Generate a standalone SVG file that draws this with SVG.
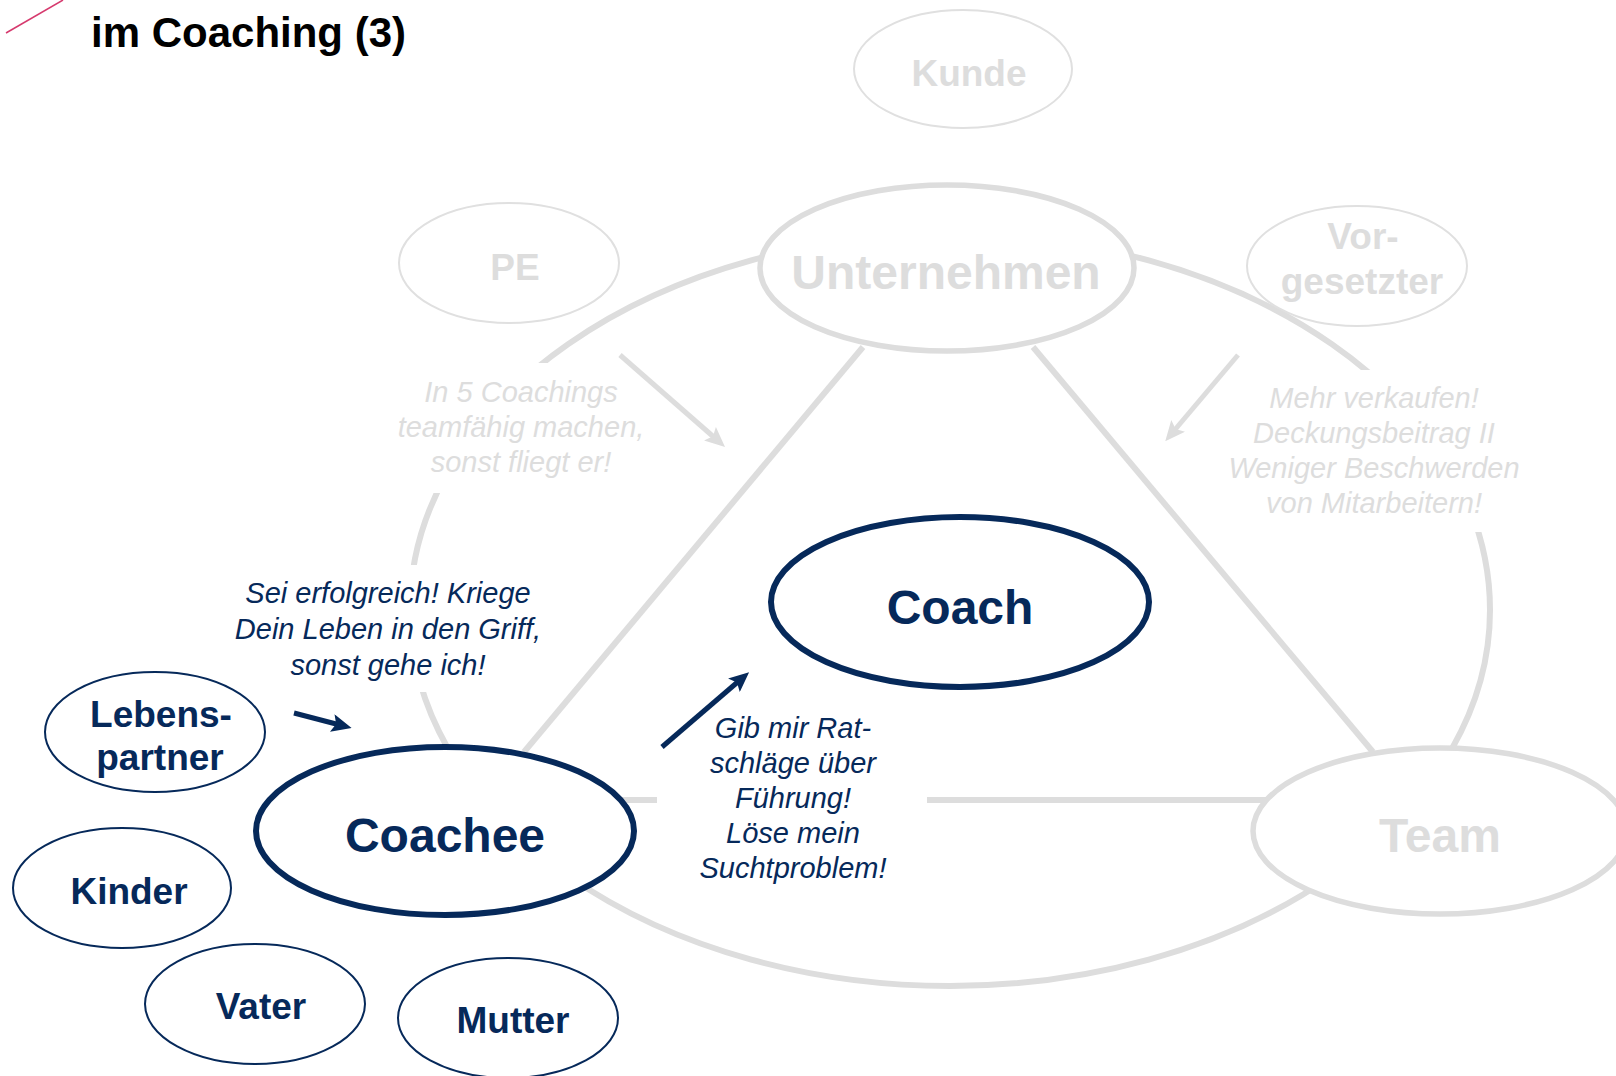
<svg xmlns="http://www.w3.org/2000/svg" width="1616" height="1076" viewBox="0 0 1616 1076">
<style>
  text { font-family: "Liberation Sans", Arial, sans-serif; text-anchor: middle; }
  .title { font-weight: bold; font-size: 42px; fill: #000; text-anchor: start; }
  .gbig { font-weight: bold; font-size: 48px; fill: #dddddd; }
  .gsm { font-weight: bold; font-size: 37px; fill: #dddddd; }
  .nbig { font-weight: bold; font-size: 48px; fill: #06295a; }
  .nsm { font-weight: bold; font-size: 37px; fill: #06295a; }
  .gq { font-style: italic; font-size: 29px; fill: #dddddd; }
  .nq { font-style: italic; font-size: 29px; fill: #06295a; }
  .gline { fill: none; stroke: #dddddd; stroke-width: 6; }
  .garrow { fill: none; stroke: #dddddd; stroke-width: 5; marker-end: url(#ghead); }
  .narrow { fill: none; stroke: #06295a; stroke-width: 5; marker-end: url(#nhead); }
  .gthick { fill: #fff; stroke: #dddddd; stroke-width: 5.5; }
  .gthin { fill: #fff; stroke: #e0e0e0; stroke-width: 2; }
  .nthick { fill: #fff; stroke: #06295a; stroke-width: 6; }
  .nthin { fill: #fff; stroke: #06295a; stroke-width: 2; }
</style>
<defs>
  <marker id="ghead" markerUnits="userSpaceOnUse" viewBox="0 0 20 18" markerWidth="20" markerHeight="18" refX="8" refY="9" orient="auto">
    <path d="M0,0 L20,9 L0,18 L4,9 z" fill="#dddddd"/>
  </marker>
  <marker id="nhead" markerUnits="userSpaceOnUse" viewBox="0 0 20 18" markerWidth="20" markerHeight="18" refX="8" refY="9" orient="auto">
    <path d="M0,0 L20,9 L0,18 L4,9 z" fill="#06295a"/>
  </marker>
  <mask id="gaps" maskUnits="userSpaceOnUse" x="0" y="0" width="1616" height="1076">
    <rect x="0" y="0" width="1616" height="1076" fill="#fff"/>
    <rect x="380" y="363" width="280" height="130" fill="#000"/>
    <rect x="1215" y="370" width="315" height="162" fill="#000"/>
    <rect x="225" y="565" width="325" height="127" fill="#000"/>
  </mask>
</defs>

<rect x="0" y="0" width="1616" height="1076" fill="#fff"/>

<g id="header">
  <line x1="6" y1="33" x2="63" y2="0" stroke="#d63a6e" stroke-width="1.5"/>
  <text class="title" x="91" y="47">im Coaching (3)</text>
</g>

<g id="connectors">
  <ellipse class="gline" cx="950" cy="610" rx="540" ry="376" mask="url(#gaps)"/>
  <line class="gline" x1="863" y1="347" x2="524" y2="752"/>
  <line class="gline" x1="1033" y1="347" x2="1373" y2="752"/>
  <line class="gline" x1="600" y1="800" x2="657" y2="800"/>
  <line class="gline" x1="927" y1="800" x2="1300" y2="800"/>
  <line class="garrow" x1="620" y1="355" x2="716" y2="439"/>
  <line class="garrow" x1="1238" y1="355" x2="1173" y2="432"/>
  <line class="narrow" x1="294" y1="713" x2="340" y2="725"/>
  <line class="narrow" x1="662" y1="747" x2="740" y2="680"/>
</g>

<g id="label-pe">
  <text class="gq" x="521" y="402">In 5 Coachings</text>
  <text class="gq" x="521" y="437">teamfähig machen,</text>
  <text class="gq" x="521" y="472">sonst fliegt er!</text>
</g>
<g id="label-vorgesetzter">
  <text class="gq" x="1374" y="408">Mehr verkaufen!</text>
  <text class="gq" x="1374" y="443">Deckungsbeitrag II</text>
  <text class="gq" x="1374" y="478">Weniger Beschwerden</text>
  <text class="gq" x="1374" y="513">von Mitarbeitern!</text>
</g>
<g id="label-partner">
  <text class="nq" x="388" y="603">Sei erfolgreich! Kriege</text>
  <text class="nq" x="388" y="639">Dein Leben in den Griff,</text>
  <text class="nq" x="388" y="675">sonst gehe ich!</text>
</g>
<g id="label-coachee">
  <text class="nq" x="793" y="738">Gib mir Rat-</text>
  <text class="nq" x="793" y="773">schläge über</text>
  <text class="nq" x="793" y="808">Führung!</text>
  <text class="nq" x="793" y="843">Löse mein</text>
  <text class="nq" x="793" y="878">Suchtproblem!</text>
</g>

<g id="node-kunde">
  <ellipse class="gthin" cx="963" cy="69" rx="109" ry="59"/>
  <text class="gsm" x="969" y="86">Kunde</text>
</g>
<g id="node-pe">
  <ellipse class="gthin" cx="509" cy="263" rx="110" ry="60"/>
  <text class="gsm" x="515" y="280">PE</text>
</g>
<g id="node-vorgesetzter">
  <ellipse class="gthin" cx="1357" cy="266" rx="110" ry="60"/>
  <text class="gsm" x="1363" y="249">Vor-</text>
  <text class="gsm" x="1362" y="294">gesetzter</text>
</g>
<g id="node-unternehmen">
  <ellipse class="gthick" cx="947" cy="268" rx="187" ry="83"/>
  <text class="gbig" x="946" y="289">Unternehmen</text>
</g>
<g id="node-team">
  <ellipse class="gthick" cx="1440" cy="831" rx="187" ry="83"/>
  <text class="gbig" x="1440" y="852">Team</text>
</g>
<g id="node-coach">
  <ellipse class="nthick" cx="960" cy="602" rx="189" ry="85"/>
  <text class="nbig" x="960" y="624">Coach</text>
</g>
<g id="node-coachee">
  <ellipse class="nthick" cx="445" cy="831" rx="189" ry="84"/>
  <text class="nbig" x="445" y="852">Coachee</text>
</g>
<g id="node-lebenspartner">
  <ellipse class="nthin" cx="155" cy="732" rx="110" ry="60"/>
  <text class="nsm" x="161" y="727">Lebens-</text>
  <text class="nsm" x="160" y="770">partner</text>
</g>
<g id="node-kinder">
  <ellipse class="nthin" cx="122" cy="888" rx="109" ry="60"/>
  <text class="nsm" x="129" y="904">Kinder</text>
</g>
<g id="node-vater">
  <ellipse class="nthin" cx="255" cy="1004" rx="110" ry="60"/>
  <text class="nsm" x="261" y="1019">Vater</text>
</g>
<g id="node-mutter">
  <ellipse class="nthin" cx="508" cy="1018" rx="110" ry="60"/>
  <text class="nsm" x="513" y="1033">Mutter</text>
</g>
</svg>
